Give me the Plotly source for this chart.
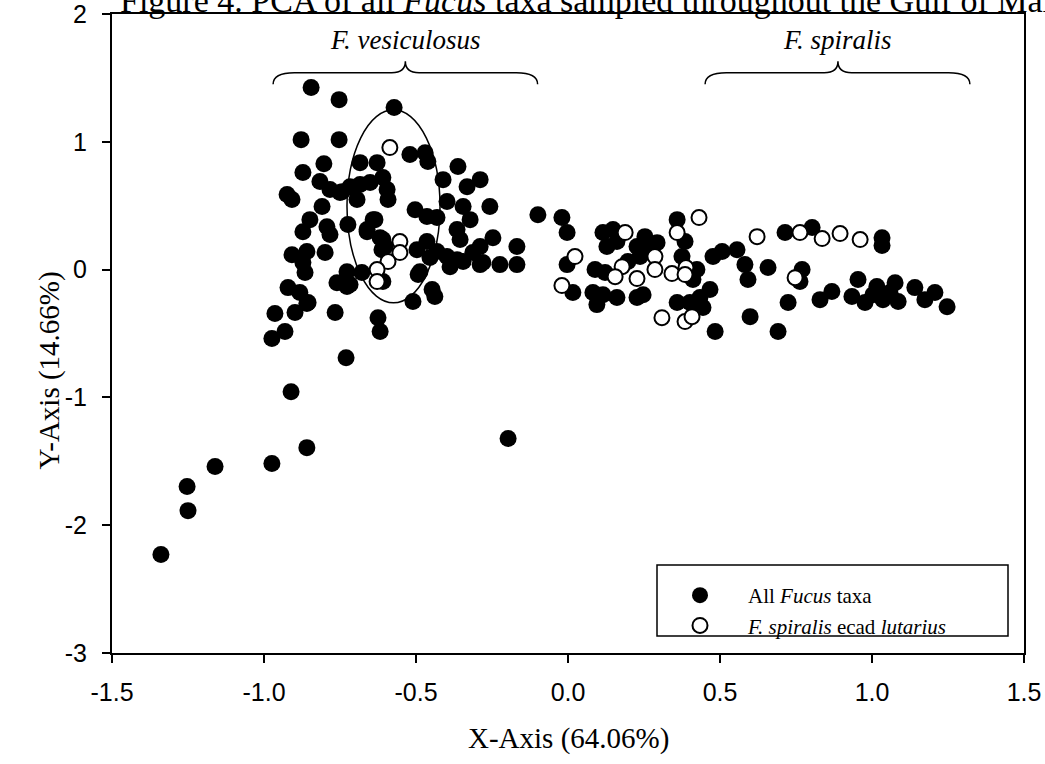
import plotly.graph_objects as go

# ---- data ----
all_x = [-1.339, -1.250, -1.253, -1.161, -0.974, -0.859, -0.911, -0.730, -0.197, -0.974,
         -0.931, -0.964, -0.898, -0.859, -0.766, -0.625, -0.618, -0.921, -0.882, -0.855,
         -0.908, -0.859, -0.799, -0.872, -0.865, -0.727, -0.760, -0.727, -0.678, -0.849,
         -0.872, -0.793, -0.783, -0.724, -0.661, -0.635, -0.609, -0.612, -0.924, -0.908,
         -0.809, -0.750, -0.872, -0.803, -0.816, -0.783, -0.743, -0.717, -0.684, -0.651,
         -0.609, -0.595, -0.592, -0.684, -0.628, -0.694, -0.878, -0.753, -0.845, -0.753,
         -0.572, -0.520, -0.470, -0.461, -0.362, -0.289, -0.411, -0.332, -0.503, -0.464,
         -0.431, -0.398, -0.345, -0.322, -0.257, -0.099, -0.641, -0.661, -0.618, -0.602,
         -0.497, -0.464, -0.431, -0.398, -0.365, -0.345, -0.313, -0.289, -0.224, -0.168,
         -0.168, -0.247, -0.365, -0.493, -0.447, -0.510, -0.717, -0.609, -0.438, -0.355,
         -0.289, -0.280, -0.454, -0.487, -0.388,
         -0.020, -0.003, 0.115, 0.148, 0.128, 0.161, 0.253, 0.293, 0.227, 0.260,
         0.237, 0.359, 0.385, 0.375, -0.003, 0.089, 0.122, 0.016, 0.082, 0.095,
         0.115, 0.161, 0.227, 0.247, 0.424, 0.411, 0.467, 0.359, 0.401, 0.434,
         0.444, 0.484, 0.477, 0.507, 0.556, 0.582, 0.592, 0.658, 0.599, 0.691,
         0.724, 0.714, 0.197,
         0.803, 1.033, 1.033, 0.770, 0.763, 0.829, 0.868, 0.954, 0.934, 0.977,
         1.016, 1.036, 1.076, 1.086, 1.003, 1.059, 1.141, 1.174, 1.207, 1.247]
all_y = [-2.230, -1.886, -1.698, -1.541, -1.518, -1.393, -0.955, -0.689, -1.322, -0.540,
         -0.485, -0.344, -0.336, -0.266, -0.336, -0.376, -0.485, -0.141, -0.180, -0.258,
         0.117, 0.141, 0.133, 0.055, -0.023, -0.016, -0.102, -0.133, -0.023, 0.391,
         0.297, 0.336, 0.274, 0.352, 0.313, 0.391, 0.235, 0.156, 0.587, 0.548,
         0.493, 0.603, 0.759, 0.829, 0.689, 0.626, 0.610, 0.649, 0.665, 0.681,
         0.720, 0.626, 0.548, 0.837, 0.837, 0.548, 1.017, 1.017, 1.424, 1.330,
         1.268, 0.900, 0.915, 0.845, 0.806, 0.704, 0.704, 0.649, 0.469, 0.415,
         0.407, 0.532, 0.493, 0.391, 0.493, 0.430, 0.391, 0.297, 0.250, 0.180,
         0.156, 0.219, 0.141, 0.102, 0.078, 0.063, 0.133, 0.039, 0.039, 0.039,
         0.180, 0.250, 0.313, -0.039, -0.156, -0.250, -0.117, -0.094, -0.211, 0.235,
         0.180, 0.055, 0.094, -0.016, 0.023,
         0.407, 0.290, 0.290, 0.313, 0.180, 0.219, 0.258, 0.211, 0.180, 0.156,
         0.102, 0.391, 0.219, 0.102, 0.039, 0.000, -0.023, -0.180, -0.180, -0.274,
         -0.196, -0.219, -0.219, -0.196, 0.000, -0.078, -0.156, -0.258, -0.258, -0.219,
         -0.297, -0.485, 0.102, 0.141, 0.156, 0.039, -0.078, 0.016, -0.368, -0.485,
         -0.258, 0.290, 0.063,
         0.329, 0.188, 0.250, 0.000, -0.094, -0.235, -0.172, -0.078, -0.211, -0.258,
         -0.133, -0.235, -0.102, -0.250, -0.196, -0.180, -0.141, -0.235, -0.180, -0.290]

lut_x = [-0.586, -0.553, -0.553, -0.592, -0.628, -0.628,
         0.431, 0.359, 0.188, 0.023, -0.020, 0.178, 0.155, 0.227, 0.286, 0.286,
         0.342, 0.388, 0.385, 0.309, 0.385, 0.408, 0.622, 0.747, 0.763, 0.836,
         0.895, 0.961]
lut_y = [0.955, 0.219, 0.133, 0.063, 0.000, -0.094,
         0.407, 0.290, 0.290, 0.102, -0.125, 0.023, -0.055, -0.070, 0.102, 0.000,
         -0.031, 0.016, -0.039, -0.376, -0.407, -0.368, 0.258, -0.063, 0.290, 0.243,
         0.282, 0.235]

x_ticks = [-1.5, -1.0, -0.5, 0.0, 0.5, 1.0, 1.5]
x_tick_text = ["-1.5", "-1.0", "-0.5", "0.0", "0.5", "1.0", "1.5"]
y_ticks = [2, 1, 0, -1, -2, -3]
y_tick_text = ["2", "1", "0", "-1", "-2", "-3"]

group_labels = ["<i>F. vesiculosus</i>", "<i>F. spiralis</i>"]
group_centers = [-0.535, 0.888]
group_spans = [(-0.97, -0.10), (0.451, 1.322)]

# ellipse around the lutarius subset (data units)
ell_x = (-0.727, -0.421)
ell_y = (-0.26, 1.25)

SERIF = "Liberation Serif, Times New Roman, serif"
SANS = "Liberation Sans, Arial, sans-serif"

L, R, T, B = 112, 21, 14, 111
W, H = 1045, 764
PW, PH = W - L - R, H - T - B


def px_x(p):
    return (p - L) / PW


def px_y(p):
    return (H - B - p) / PH


fig = go.Figure()
fig.add_trace(go.Scatter(
    x=all_x, y=all_y, mode="markers", name="All <i>Fucus</i> taxa",
    marker=dict(color="black", size=17, line=dict(width=0))))
fig.add_trace(go.Scatter(
    x=lut_x, y=lut_y, mode="markers", name="<i>F. spiralis</i> ecad <i>lutarius</i>",
    marker=dict(color="white", size=15, line=dict(color="black", width=2))))

shapes = []
# braces
y_end, y_bar, y_peak = 1.45, 1.54, 1.63
for (a, b), c in zip(group_spans, group_centers):
    r = 0.07
    path = (f"M {a},{y_end} Q {a},{y_bar} {a + r},{y_bar} L {c - 0.045},{y_bar} "
            f"Q {c},{y_bar} {c},{y_peak} Q {c},{y_bar} {c + 0.045},{y_bar} "
            f"L {b - r},{y_bar} Q {b},{y_bar} {b},{y_end}")
    shapes.append(dict(type="path", path=path, xref="x", yref="y",
                       line=dict(color="black", width=1.5)))
shapes.append(dict(type="circle", xref="x", yref="y", x0=ell_x[0], x1=ell_x[1],
                   y0=ell_y[0], y1=ell_y[1], line=dict(color="black", width=1.5)))
# legend box
shapes.append(dict(type="rect", xref="paper", yref="paper",
                   x0=px_x(657), x1=px_x(1008), y0=px_y(636), y1=px_y(565),
                   line=dict(color="black", width=1.5), fillcolor="white", layer="below"))

annotations = []
for lab, c in zip(group_labels, group_centers):
    annotations.append(dict(x=c, y=1.80, xref="x", yref="y", text=lab, showarrow=False,
                            font=dict(family=SERIF, size=27, color="black")))
annotations.append(dict(x=0.5, y=px_y(738), xref="paper", yref="paper",
                        text="X-Axis (64.06%)", showarrow=False, yanchor="middle",
                        font=dict(family=SERIF, size=29, color="black")))
annotations.append(dict(x=px_x(30), y=px_y(371), xref="paper", yref="paper",
                        text="Y-Axis (14.66%)", showarrow=False, textangle=-90,
                        font=dict(family=SERIF, size=29, color="black")))
annotations.append(dict(x=px_x(118), y=px_y(1), xref="paper", yref="paper", xanchor="left",
                        yanchor="middle",
                        text="Figure 4. PCA of all <i>Fucus</i> taxa sampled throughout the Gulf of Maine",
                        showarrow=False, font=dict(family=SERIF, size=34, color="black")))

axis_common = dict(showgrid=False, zeroline=False, showline=True, linecolor="black",
                   linewidth=2, mirror=True, ticks="outside", ticklen=8, tickwidth=1.5,
                   tickcolor="black", automargin=False, ticklabeloverflow="allow",
                   tickfont=dict(family=SANS, size=25, color="black"))

fig.update_layout(
    width=W, height=H,
    margin=dict(l=L, r=R, t=T, b=B, pad=0),
    paper_bgcolor="white", plot_bgcolor="white",
    showlegend=True,
    legend=dict(x=px_x(652), y=px_y(575), xanchor="left", yanchor="top",
                bgcolor="rgba(0,0,0,0)", borderwidth=0,
                font=dict(family=SERIF, size=21, color="black"),
                itemwidth=86, tracegroupgap=0),
    shapes=shapes, annotations=annotations,
    xaxis=dict(range=[-1.5, 1.5], tickvals=x_ticks, ticktext=x_tick_text,
               ticklabelstandoff=8, **axis_common),
    yaxis=dict(range=[-3, 2], tickvals=y_ticks, ticktext=y_tick_text,
               ticklabelstandoff=10, **axis_common),
)

fig.write_html("out.html")
